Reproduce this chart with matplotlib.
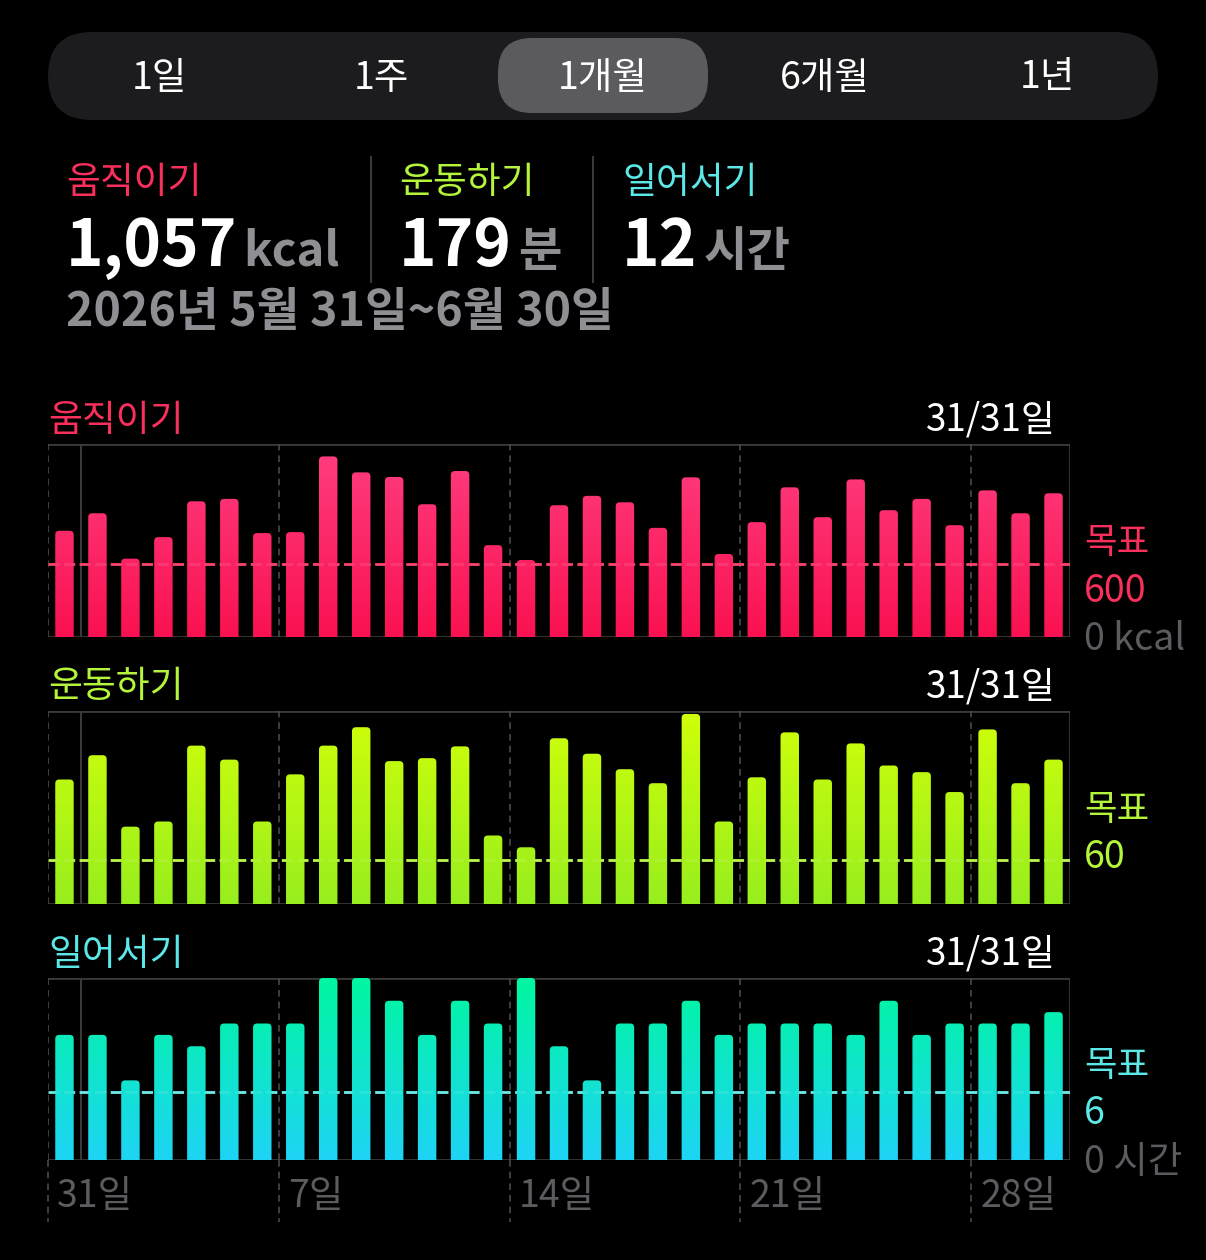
import numpy as np
import matplotlib.pyplot as plt
from matplotlib.patches import FancyBboxPatch
from matplotlib.colors import LinearSegmentedColormap

plt.rcParams['font.family'] = ['Noto Sans CJK KR', 'DejaVu Sans']

W, H = 1206, 1260

# ---- data ----
periods = ['1일', '1주', '1개월', '6개월', '1년']
selected = '1개월'

days = [31] + list(range(1, 31))
tick_days = [31, 7, 14, 21, 28]
month_start = 1

move_kcal = [873, 1017, 644, 821, 1115, 1135, 854, 862, 1484, 1353, 1315, 1091, 1364, 755, 633, 1083,
             1160, 1107, 897, 1312, 682, 944, 1230, 985, 1295, 1042, 1135, 919, 1205, 1017, 1181]
exercise_min = [169, 202, 105, 112, 215, 196, 112, 176, 215, 240, 194, 198, 214, 93, 77, 225,
                204, 183, 164, 258, 112, 172, 233, 169, 218, 188, 179, 152, 237, 164, 196]
stand_hours = [11, 11, 7, 11, 10, 12, 12, 12, 16, 16, 14, 11, 14, 12, 16, 10,
               7, 12, 12, 14, 11, 12, 12, 12, 11, 14, 11, 12, 12, 12, 13]

move_goal, exercise_goal, stand_goal = 600, 60, 6
summary_values = ['1,057', '179', '12']
summary_units = ['kcal', '분', '시간']
names = ['움직이기', '운동하기', '일어서기']
date_range = '2026년 5월 31일~6월 30일'

# ---- style ----
text_cols = ['#FA2F5B', '#B4F53C', '#5CE8E6']
grads = [('#FA1151', '#FF3F80'), ('#98EE1E', '#D0FF0A'), ('#1ED4F5', '#00F7A0')]
grid_col = '#3a3a3c'
muted = '#5c5c60'
gray = '#8E8E93'

fig = plt.figure(figsize=(W / 100, H / 100), dpi=100, facecolor='black')
bg = fig.add_axes([0, 0, 1, 1])
bg.set_xlim(0, W)
bg.set_ylim(H, 0)
bg.axis('off')
bg.set_facecolor('black')

# segmented control
bg.add_patch(FancyBboxPatch((48, 32), 1110, 88, boxstyle='round,pad=0,rounding_size=44',
                            fc='#1c1c1e', ec='none'))
seg_w = 1110 / len(periods)
for i, p in enumerate(periods):
    cx = 48 + seg_w * (i + 0.5)
    if p == selected:
        bg.add_patch(FancyBboxPatch((cx - 105, 38), 210, 75, boxstyle='round,pad=0,rounding_size=34',
                                    fc='#5b5b5f', ec='none'))
    bg.text(cx, 78, p, color='white', fontsize=27, ha='center', va='center')

# header summary
renderer = fig.canvas.get_renderer()
head_x = [66, 399, 622]
for i in range(3):
    bg.text(head_x[i], 182, names[i], color=text_cols[i], fontsize=26.5, ha='left', va='center')
    t = bg.text(head_x[i], 266, summary_values[i], color='white', fontsize=46, fontweight='bold',
                ha='left', va='baseline')
    x1 = t.get_window_extent(renderer).x1
    bg.text(x1 + 6, 266, summary_units[i], color=gray, fontsize=34, fontweight='bold',
            ha='left', va='baseline')
for sx in [371, 593]:
    bg.plot([sx, sx], [157, 282], color=grid_col, lw=1.5)
bg.text(66, 312, date_range, color=gray, fontsize=33.5, fontweight='bold', ha='left', va='center')

# charts
x_left, x_right = 48, 1070
n = len(days)
slot = (x_right - x_left) / n
charts = [
    (move_kcal, move_goal, 444, 637, 1586, ['목표', str(move_goal), '0 kcal']),
    (exercise_min, exercise_goal, 711, 904, 262, ['목표', str(exercise_goal), None]),
    (stand_hours, stand_goal, 978, 1160, 16, ['목표', str(stand_goal), '0 시간']),
]
bw = 0.56
r_px = 4

for k, (vals, goal, y0, y1, top, side) in enumerate(charts):
    ax = fig.add_axes([x_left / W, 1 - y1 / H, (x_right - x_left) / W, (y1 - y0) / H])
    ax.set_facecolor('black')
    cmap = LinearSegmentedColormap.from_list('g%d' % k, list(grads[k]))
    grad = np.linspace(0, 1, 256).reshape(-1, 1)
    h_px = y1 - y0
    rx = r_px * n / (x_right - x_left)
    ry = r_px * top / h_px
    for i, v in enumerate(vals):
        p = FancyBboxPatch((i + (1 - bw) / 2, -ry), bw, v + ry,
                           boxstyle='round,pad=0,rounding_size=%f' % rx,
                           mutation_aspect=ry / rx, fc='none', ec='none')
        ax.add_patch(p)
        im = ax.imshow(grad, extent=[0, n, 0, top], origin='lower', aspect='auto',
                       cmap=cmap, zorder=3, interpolation='bilinear')
        im.set_clip_path(p)
    ax.axhline(goal, color=text_cols[k], lw=2, linestyle=(0, (4, 1.6)), zorder=2)
    ax.axhline(goal, color='white', lw=2, alpha=0.10, linestyle=(0, (4, 1.6)), zorder=4)
    # frame and week lines
    ax.axhline(top, color=grid_col, lw=2, zorder=1)
    ax.axhline(0, color=grid_col, lw=2, zorder=1)
    ax.axvline(n, color=grid_col, lw=2, zorder=1)
    ax.axvline(days.index(month_start), color=grid_col, lw=1.5, zorder=1)
    for d in tick_days:
        ax.axvline(days.index(d), color='#4a4a4e', lw=1.2, linestyle=(0, (4, 3)), zorder=1)
    ax.set_xlim(0, n)
    ax.set_ylim(0, top)
    ax.axis('off')

    # titles
    done = sum(1 for v in vals if v >= goal)
    bg.text(48, y0 - 24, names[k], color=text_cols[k], fontsize=26.5, ha='left', va='center')
    bg.text(1056, y0 - 24, '%d/%d일' % (done, n), color='white', fontsize=26.5, ha='right', va='center')
    # side labels
    bg.text(1084, y1 - 94, side[0], color=text_cols[k], fontsize=25.5, ha='left', va='center')
    bg.text(1084, y1 - 46, side[1], color=text_cols[k], fontsize=27, ha='left', va='center')
    if side[2]:
        bg.text(1084, y1 + 3, side[2], color=muted, fontsize=27, ha='left', va='center')

# x tick labels under last chart
for d in tick_days:
    xx = x_left + days.index(d) * slot
    bg.plot([xx, xx], [1160, 1222], color='#4a4a4e', lw=1.2, linestyle=(0, (4, 3)))
    bg.text(xx + 9, 1197, '%d일' % d, color=muted, fontsize=27, ha='left', va='center')

fig.savefig('out.png', dpi=100, facecolor='black')
